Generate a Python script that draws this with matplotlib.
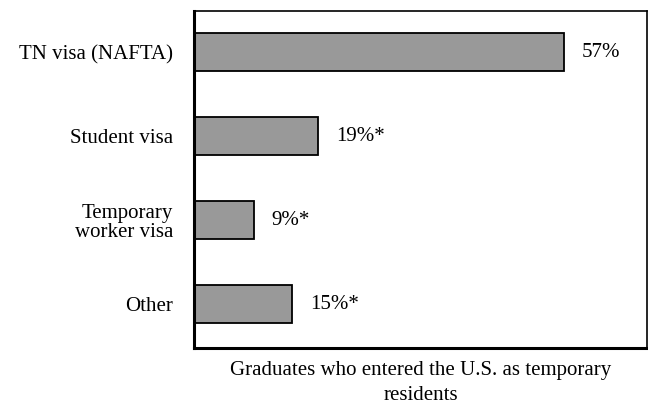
import matplotlib.pyplot as plt

# Datos: forma de ingreso de los graduados
categorias = ['TN visa (NAFTA)', 'Student visa', 'Temporary\nworker visa', 'Other']
porcentajes = [57, 19, 9, 15]
etiquetas = ['57%', '19%*', '9%*', '15%*']

plt.rcParams['font.family'] = ['Liberation Serif', 'DejaVu Serif']

fig = plt.figure(figsize=(6.48, 4.05), dpi=100)
ax = fig.add_axes([194 / 648, 1 - 348 / 405, 453 / 648, 337 / 405])

pos = range(len(categorias))
ax.barh(pos, porcentajes, height=0.45, color='#999999', edgecolor='black', linewidth=1.3, left=0.2)

for y, v, t in zip(pos, porcentajes, etiquetas):
    ax.text(v + 2.9, y, t, va='center', ha='left', fontsize=15)

ax.set_yticks(list(pos))
ax.set_yticklabels(categorias, fontsize=15, ha='right', multialignment='right', linespacing=1.05)
ax.tick_params(axis='y', length=0, pad=15)
ax.set_xticks([])
ax.set_xlim(0, 70)
ax.set_ylim(3.52, -0.49)

ax.spines['left'].set_linewidth(2.2)
ax.spines['bottom'].set_linewidth(2.2)
ax.spines['top'].set_linewidth(1.2)
ax.spines['right'].set_linewidth(1.2)

ax.set_xlabel('Graduates who entered the U.S. as temporary\nresidents', fontsize=15,
              labelpad=9, linespacing=1.45)

fig.savefig('out.png', dpi=100)
